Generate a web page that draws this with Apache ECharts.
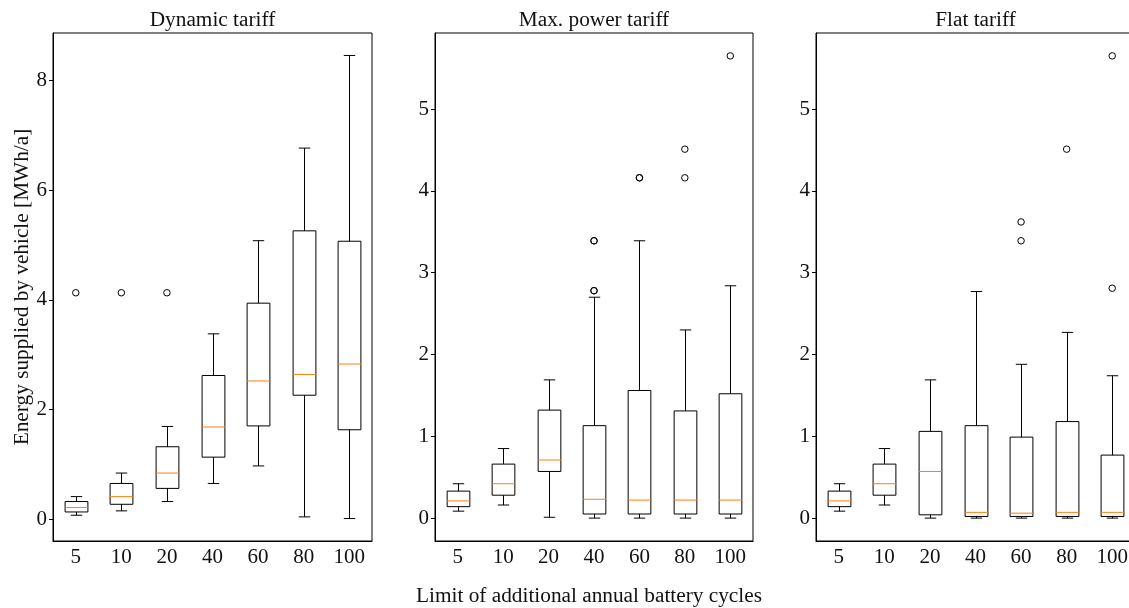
<!DOCTYPE html>
<html>
<head>
<meta charset="UTF-8">
<title>Energy supplied by vehicle</title>
<script src="https://cdn.jsdelivr.net/npm/echarts@6/dist/echarts.min.js"></script>
<style>
html, body { margin: 0; padding: 0; background: #fff; }
#chart { width: 1129px; height: 608px; }
</style>
</head>
<body>
<div id="chart"></div>
<script>
var cycles = ['5', '10', '20', '40', '60', '80', '100'];
var panelTitles = ['Dynamic tariff', 'Max. power tariff', 'Flat tariff'];

// [whisker low, Q1, median, Q3, whisker high] per cycle limit
var dynamicBoxes = [
    [0.07, 0.13, 0.21, 0.32, 0.41],
    [0.15, 0.27, 0.41, 0.65, 0.84],
    [0.32, 0.56, 0.84, 1.32, 1.69],
    [0.65, 1.13, 1.68, 2.62, 3.38],
    [0.97, 1.70, 2.52, 3.94, 5.08],
    [0.04, 2.26, 2.64, 5.26, 6.77],
    [0.01, 1.63, 2.83, 5.07, 8.46]
];
var dynamicOutliers = [['5', 4.13], ['10', 4.13], ['20', 4.13]];

var maxPowerBoxes = [
    [0.085, 0.14, 0.21, 0.33, 0.42],
    [0.16, 0.28, 0.42, 0.66, 0.85],
    [0.01, 0.57, 0.71, 1.32, 1.69],
    [0.0, 0.05, 0.23, 1.13, 2.70],
    [0.0, 0.05, 0.22, 1.56, 3.39],
    [0.0, 0.05, 0.22, 1.31, 2.30],
    [0.0, 0.05, 0.22, 1.52, 2.84]
];
var maxPowerOutliers = [
    ['40', 2.78], ['40', 2.78], ['40', 3.39], ['40', 3.39],
    ['60', 4.16], ['60', 4.16],
    ['80', 4.16], ['80', 4.51],
    ['100', 5.65]
];

var flatBoxes = [
    [0.085, 0.14, 0.21, 0.33, 0.42],
    [0.16, 0.28, 0.42, 0.66, 0.85],
    [0.0, 0.04, 0.57, 1.06, 1.69],
    [0.0, 0.02, 0.07, 1.13, 2.77],
    [0.0, 0.02, 0.06, 0.99, 1.88],
    [0.0, 0.02, 0.07, 1.18, 2.27],
    [0.0, 0.02, 0.07, 0.77, 1.74]
];
var flatOutliers = [['60', 3.39], ['60', 3.62], ['80', 4.51], ['100', 2.81], ['100', 5.65]];

var dynamicTicks = [0, 2, 4, 6, 8];
var powerTicks = [0, 1, 2, 3, 4, 5];

var FONT = 'Liberation Serif';
var FS = 21;        // tick labels
var FS_TEXT = 21.3; // titles and axis names

var chart = echarts.init(document.getElementById('chart'));

function drawBox(params, api) {
    var idx = api.value(0);
    var lo = api.coord([idx, api.value(1)]);
    var q1 = api.coord([idx, api.value(2)]);
    var med = api.coord([idx, api.value(3)]);
    var q3 = api.coord([idx, api.value(4)]);
    var hi = api.coord([idx, api.value(5)]);
    var w = api.size([1, 0])[0] * 0.5;
    var x = Math.round(lo[0]) + 0.5;
    var black = {stroke: '#000', lineWidth: 1, fill: null};
    return {
        type: 'group',
        children: [
            {type: 'line', shape: {x1: x, y1: lo[1], x2: x, y2: q1[1]}, style: black},
            {type: 'line', shape: {x1: x, y1: hi[1], x2: x, y2: q3[1]}, style: black},
            {type: 'line', shape: {x1: x - w / 4, y1: lo[1], x2: x + w / 4, y2: lo[1]}, style: black},
            {type: 'line', shape: {x1: x - w / 4, y1: hi[1], x2: x + w / 4, y2: hi[1]}, style: black},
            {type: 'rect', shape: {x: x - w / 2, y: q3[1], width: w, height: q1[1] - q3[1]}, style: black},
            {type: 'line', shape: {x1: x - w / 2, y1: med[1], x2: x + w / 2, y2: med[1]},
                style: {stroke: '#ff7f0e', lineWidth: 1}}
        ]
    };
}

function boxData(boxes) {
    return boxes.map(function (b, i) {
        return [i].concat(b);
    });
}

var grids = [
    {left: 53, top: 33, width: 319, height: 508},
    {left: 435, top: 33, width: 318, height: 508},
    {left: 816, top: 33, width: 319, height: 508}
];
var yRanges = [[-0.40, 8.87, dynamicTicks], [-0.28, 5.93, powerTicks], [-0.28, 5.93, powerTicks]];
var allBoxes = [dynamicBoxes, maxPowerBoxes, flatBoxes];
var allOutliers = [dynamicOutliers, maxPowerOutliers, flatOutliers];

var option = {
    animation: false,
    backgroundColor: '#fff',
    textStyle: {fontFamily: FONT},
    grid: grids.map(function (g) {
        return Object.assign({show: true, borderColor: '#000', borderWidth: 1, backgroundColor: 'transparent',
            outerBoundsMode: 'none', containLabel: false}, g);
    }),
    xAxis: grids.map(function (g, i) {
        return {
            type: 'category',
            gridIndex: i,
            data: cycles,
            boundaryGap: true,
            axisLine: {onZero: false, lineStyle: {color: '#000', width: 1}},
            axisTick: {alignWithLabel: true, length: 4, lineStyle: {color: '#000'}},
            axisLabel: {fontFamily: FONT, fontSize: FS, color: '#111', margin: 6},
            splitLine: {show: false}
        };
    }),
    yAxis: grids.map(function (g, i) {
        return {
            type: 'value',
            gridIndex: i,
            min: yRanges[i][0],
            max: yRanges[i][1],
            axisLine: {show: true, onZero: false, lineStyle: {color: '#000', width: 1}},
            axisTick: {show: true, length: 4, customValues: yRanges[i][2], lineStyle: {color: '#000'}},
            axisLabel: {fontFamily: FONT, fontSize: FS, color: '#111', margin: 6, customValues: yRanges[i][2]},
            splitLine: {show: false}
        };
    }),
    series: [],
    graphic: [
        {type: 'text', x: 22, y: 287, rotation: Math.PI / 2,
            style: {text: 'Energy supplied by vehicle [MWh/a]', font: FS_TEXT + 'px "' + FONT + '"', fill: '#111',
                textAlign: 'center', textVerticalAlign: 'middle'}},
        {type: 'text', x: 589, y: 596,
            style: {text: 'Limit of additional annual battery cycles', font: FS_TEXT + 'px "' + FONT + '"', fill: '#111',
                textAlign: 'center', textVerticalAlign: 'middle'}}
    ]
};

grids.forEach(function (g, i) {
    option.graphic.push({
        type: 'text', x: g.left + g.width / 2, y: 20,
        style: {text: panelTitles[i], font: FS_TEXT + 'px "' + FONT + '"', fill: '#111',
            textAlign: 'center', textVerticalAlign: 'middle'}
    });
    option.series.push({
        type: 'custom',
        xAxisIndex: i,
        yAxisIndex: i,
        renderItem: drawBox,
        encode: {x: 0, y: [1, 2, 3, 4, 5]},
        data: boxData(allBoxes[i]),
        clip: false
    });
    option.series.push({
        type: 'scatter',
        xAxisIndex: i,
        yAxisIndex: i,
        symbol: 'circle',
        symbolSize: 6.5,
        itemStyle: {color: 'transparent', borderColor: '#000', borderWidth: 1, opacity: 1},
        data: allOutliers[i]
    });
});

chart.setOption(option);
</script>
</body>
</html>
